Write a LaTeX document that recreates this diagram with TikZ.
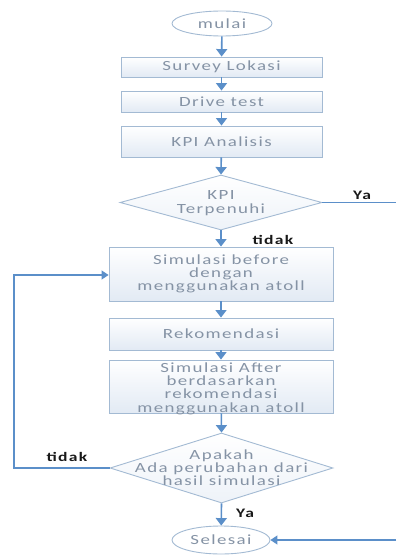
\documentclass[tikz,border=0pt]{standalone}
\usepackage{fontspec}
\usetikzlibrary{shapes.geometric,arrows.meta}
\newfontfamily\boxfont{Carlito}[FakeStretch=1.35,LetterSpace=10]
\definecolor{arrowblue}{HTML}{5B8FC9}
\definecolor{boxline}{HTML}{A3BAD3}
\definecolor{boxfill}{HTML}{E2EAF4}
\definecolor{boxtext}{HTML}{8593A5}
\tikzset{
  procbox/.style={draw=boxline, line width=0.9pt, top color=white, bottom color=boxfill,
    inner sep=0pt, align=center, text=boxtext,
    font=\boxfont\fontsize{14}{13.3}\selectfont},
  termbox/.style={ellipse, draw=boxline, line width=0.9pt, fill=white, inner sep=0pt,
    text=boxtext, font=\boxfont\fontsize{14}{13.3}\selectfont},
  decbox/.style={diamond, draw=boxline, line width=0.9pt, top color=white, bottom color=boxfill!60,
    inner sep=0pt},
  dectext/.style={align=center, text=boxtext, inner sep=0pt,
    font=\boxfont\fontsize{14}{13.3}\selectfont},
  flow/.style={draw=arrowblue, line width=1.6pt, -{Triangle[width=11pt,length=7.5pt]}},
  flowline/.style={draw=arrowblue, line width=1.2pt},
  flowarrow/.style={draw=arrowblue, line width=1.2pt, -{Triangle[width=9pt,length=7pt]}},
  lbl/.style={inner sep=0pt, text=black!90, font=\boxfont\bfseries\fontsize{13}{13}\selectfont}
}
\begin{document}
\begin{tikzpicture}[x=1pt,y=-1pt]
\useasboundingbox (0,0) rectangle (396,556);
\node[termbox, minimum width=100pt, minimum height=25pt] (mulai) at (222,23.5) {mulai};
\node[procbox, minimum width=201pt, minimum height=20pt] (survey) at (221.5,67) {Survey Lokasi};
\node[procbox, minimum width=201pt, minimum height=21pt] (drive) at (221.5,101.5) {Drive test};
\node[procbox, minimum width=201pt, minimum height=31pt] (kpi) at (221.5,141.5) {KPI Analisis};
\node[decbox, minimum width=202pt, minimum height=55pt] (d1) at (221,202.5) {};
\node[dectext] (d1t) at (221,203) {KPI\\Terpenuhi};
\node[procbox, minimum width=224pt, minimum height=54pt] (simb) at (221,274) {Simulasi before\\dengan\\menggunakan atoll};
\node[procbox, minimum width=224pt, minimum height=32pt] (rek) at (221,334) {Rekomendasi};
\node[procbox, minimum width=224pt, minimum height=53pt, text height=0pt] (sima) at (221,386.5) {};
\node[dectext] (simat) at (221,388.5) {Simulasi After\\berdasarkan\\rekomendasi\\menggunakan atoll};
\node[decbox, minimum width=223pt, minimum height=70pt] (d2) at (221.5,468) {};
\node[dectext] (d2t) at (221.5,467.5) {Apakah\\Ada perubahan dari\\hasil simulasi};
\node[termbox, minimum width=98pt, minimum height=28pt] (selesai) at (221,540) {Selesai};

\coordinate (yaend) at (396,202.5);
\coordinate (loopa) at (14,468);
\coordinate (loopb) at (14,275);
\coordinate (rightin) at (396,540);

\draw[flow] (mulai) -- (survey);
\draw[flow] (survey) -- (drive);
\draw[flow] (drive) -- (kpi);
\draw[flow] (kpi) -- (d1.north);
\draw[flow] (d1.south) -- (simb);
\draw[flow] (simb) -- (rek);
\draw[flow] (rek) -- (sima);
\draw[flow] (sima) -- (d2.north);
\draw[flow] (d2.south) -- (selesai);
\draw[flowline] (d1.east) -- (yaend);
\draw[flowarrow] (d2.west) -- (loopa) -- (loopb) -- (simb.west |- loopb);
\draw[flowarrow] (rightin) -- (selesai.east);

\node[lbl] (ya1) at (362,195) {Ya};
\node[lbl] (tidak1) at (273,240) {tidak};
\node[lbl] (tidak2) at (67,457) {tidak};
\node[lbl] (ya2) at (245,513) {Ya};
\end{tikzpicture}
\end{document}
